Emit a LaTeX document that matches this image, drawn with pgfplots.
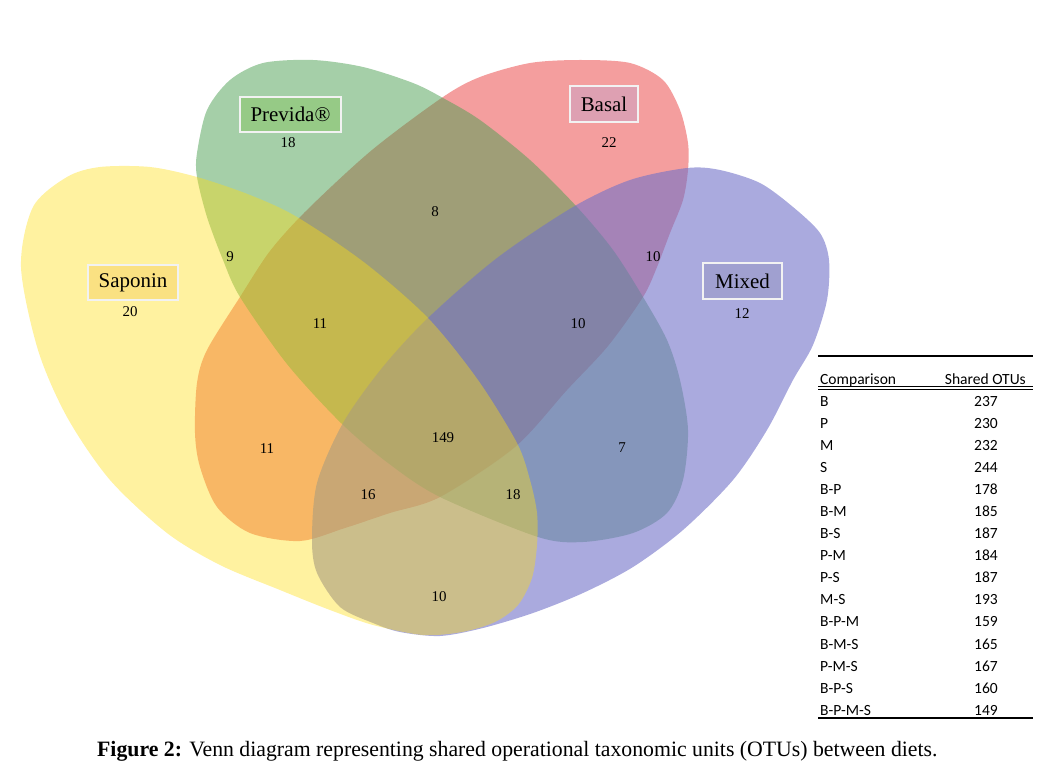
\documentclass[border=0pt]{standalone}
\usepackage{fontspec}
\setmainfont{Liberation Serif}
\newfontfamily\calib{Carlito}
\usepackage{graphicx}
\usepackage{pgfplots}
\pgfplotsset{compat=1.18}
\usepackage{pgfplotstable}
\definecolor{cS}{RGB}{255,222,17}
\definecolor{cP}{RGB}{75,159,81}
\definecolor{cB}{RGB}{233,61,61}
\definecolor{cM}{RGB}{113,113,200}
\definecolor{bxS}{RGB}{250,225,130}
\definecolor{bxP}{RGB}{150,202,134}
\definecolor{bxB}{RGB}{222,160,178}
\definecolor{bxM}{RGB}{160,160,208}
\definecolor{bxEdge}{RGB}{242,242,242}

\pgfplotstableread{
x y lab
130 312 20
288 143 18
609 143 22
742 314 12
230 257 9
435 212 8
653 257 10
320 324 11
578 324 10
267 449 11
443 438 149
622 448 7
368 495 16
513 495 18
439 597 10
}\counts

\begin{document}
\begin{tikzpicture}
\begin{axis}[
  scale only axis, width=1045bp, height=764bp,
  xmin=0, xmax=1045, ymin=0, ymax=764, y dir=reverse,
  hide axis, clip=false]
\path (rel axis cs:0,0) rectangle (rel axis cs:1,1);
% Basal
\addplot[draw=none, fill=cB, fill opacity=0.5, smooth cycle] coordinates {
(443,97) (480,77) (530,63) (580,60) (630,63) (663,80) (680,110) (688,143)
(688,170) (683,200) (670,233) (657,267) (643,297) (608,346) (567,390)
(515,447) (440,497) (390,513) (345,528) (300,541) (250,533) (217,507)
(200,467) (195,433) (197,383) (207,350) (240,297) (270,251) (307,210) (372,150)};
% Previda
\addplot[draw=none, fill=cP, fill opacity=0.5, smooth cycle] coordinates {
(197,153) (207,110) (230,80) (263,63) (313,60) (363,67) (413,83) (443,98)
(480,120) (530,160) (577,207) (613,250) (643,297) (667,340) (680,380)
(688,430) (683,480) (667,513) (633,533) (583,542) (538,537) (440,497)
(388,463) (341,423) (287,364) (240,297) (223,260) (207,217) (197,177)};
% Mixed
\addplot[draw=none, fill=cM, fill opacity=0.6, smooth cycle] coordinates {
(428,318) (497,258) (573,207) (630,180) (687,168) (720,170) (760,183)
(793,207) (820,233) (829,260) (827,300) (813,345) (793,380) (767,430)
(733,480) (683,530) (633,567) (583,593) (533,613) (483,628) (440,636)
(400,632) (373,623) (340,607) (317,573) (312,540) (317,483) (343,423) (382,368)};
% Saponin
\addplot[draw=none, fill=cS, fill opacity=0.4, smooth cycle] coordinates {
(21,267) (33,207) (67,177) (100,167) (150,167) (197,177) (250,195)
(297,217) (365,263) (428,318) (478,380) (517,443) (530,480) (537,513)
(537,545) (532,578) (518,605) (495,622) (462,632) (423,635) (373,625)
(330,610) (280,590) (220,565) (167,533) (110,480) (67,417) (38,350)};
% region counts
\addplot[draw=none, mark=none, nodes near coords, point meta=explicit symbolic,
  every node near coord/.append style={anchor=center, inner sep=0pt,
  font=\fontsize{15}{15}\selectfont, text=black}]
  table[x=x, y=y, meta=lab] {\counts};
% set labels
\node[draw=bxEdge, line width=1.3bp, fill=bxP, minimum width=101bp, minimum height=35bp,
  inner sep=0pt, font=\fontsize{21}{21}\selectfont] at (axis cs:290.5,114.5) {Previda®};
\node[draw=bxEdge, line width=1.3bp, fill=bxS, minimum width=90bp, minimum height=35bp,
  inner sep=0pt, font=\fontsize{21}{21}\selectfont] at (axis cs:133,282.5) {Saponin};
\node[draw=bxEdge, line width=1.3bp, fill=bxB, minimum width=68bp, minimum height=36bp,
  inner sep=0pt, font=\fontsize{21}{21}\selectfont] at (axis cs:604,104) {Basal};
\node[draw=bxEdge, line width=1.3bp, fill=bxM, minimum width=79bp, minimum height=36bp,
  inner sep=0pt, font=\fontsize{21}{21}\selectfont] at (axis cs:742.5,281) {Mixed};
% table
\draw[line width=1.2bp] (axis cs:818,356) -- (axis cs:1033,356);
\draw[line width=0.8bp] (axis cs:818,386.5) -- (axis cs:1033,386.5);
\draw[line width=0.8bp] (axis cs:818,389.5) -- (axis cs:1033,389.5);
\draw[line width=1.2bp] (axis cs:818,718) -- (axis cs:1033,718);
\node[anchor=base west, inner sep=0pt, font=\calib\fontsize{15.6}{15.6}\selectfont]
  at (axis cs:820,384) {Comparison};
\node[anchor=base east, inner sep=0pt, font=\calib\fontsize{15.6}{15.6}\selectfont]
  at (axis cs:1026,384) {Shared OTUs};
\node[anchor=north west, inner sep=0pt, font=\calib\fontsize{15.6}{22.1}\selectfont]
  at (axis cs:820,391.2) {\begin{tabular}{@{}l@{}}B\\P\\M\\S\\B-P\\B-M\\B-S\\P-M\\P-S\\M-S\\B-P-M\\B-M-S\\P-M-S\\B-P-S\\B-P-M-S\end{tabular}};
\node[anchor=north east, inner sep=0pt, font=\calib\fontsize{15.6}{22.1}\selectfont]
  at (axis cs:998,391.2) {\begin{tabular}{@{}r@{}}237\\230\\232\\244\\178\\185\\187\\184\\187\\193\\159\\165\\167\\160\\149\end{tabular}};
% caption
\node[anchor=base west, inner sep=0pt, font=\fontsize{22}{22}\selectfont]
  at (axis cs:97,756) {\scalebox{0.993}[1]{\textbf{Figure 2:} Venn diagram representing shared operational taxonomic units (OTUs) between diets.}};
\end{axis}
\end{tikzpicture}
\end{document}
